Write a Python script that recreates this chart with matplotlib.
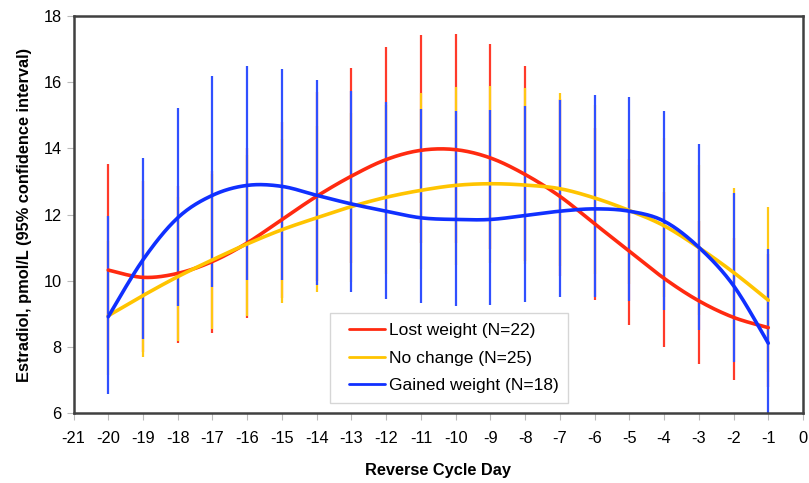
import numpy as np
import matplotlib
matplotlib.use("Agg")
import matplotlib.pyplot as plt
from matplotlib.legend_handler import HandlerLine2D
from matplotlib.lines import Line2D

days = [-20, -19, -18, -17, -16, -15, -14, -13, -12, -11, -10, -9, -8, -7, -6, -5, -4, -3, -2, -1]

lost_mean = [10.32, 10.10, 10.22, 10.58, 11.14, 11.85, 12.55, 13.16, 13.66, 13.94, 13.96, 13.71, 13.21, 12.55, 11.72, 10.89, 10.07, 9.39, 8.89, 8.58]
lost_lo   = [7.90, 7.85, 8.13, 8.42, 8.87, 9.48, 10.00, 10.54, 10.94, 11.15, 11.15, 10.97, 10.59, 10.15, 9.41, 8.67, 8.00, 7.48, 7.00, 6.80]
lost_hi   = [13.52, 13.00, 12.85, 13.30, 14.00, 14.80, 15.70, 16.43, 17.05, 17.42, 17.47, 17.14, 16.48, 15.50, 14.60, 13.68, 12.68, 11.79, 11.29, 10.80]

same_mean = [8.94, 9.55, 10.12, 10.63, 11.11, 11.54, 11.90, 12.24, 12.52, 12.73, 12.88, 12.93, 12.89, 12.78, 12.50, 12.12, 11.66, 11.00, 10.25, 9.41]
same_lo   = [7.15, 7.68, 8.18, 8.54, 8.94, 9.32, 9.65, 9.95, 10.20, 10.35, 10.47, 10.52, 10.50, 10.43, 10.20, 9.90, 9.50, 8.95, 8.20, 7.25]
same_hi   = [11.20, 11.87, 12.52, 13.23, 13.80, 14.29, 14.67, 15.06, 15.30, 15.66, 15.84, 15.89, 15.81, 15.66, 15.30, 14.85, 14.30, 13.50, 12.81, 12.22]

gain_mean = [8.91, 10.63, 11.90, 12.58, 12.88, 12.85, 12.58, 12.32, 12.10, 11.90, 11.85, 11.85, 11.97, 12.10, 12.17, 12.10, 11.80, 11.01, 9.85, 8.11]
gain_lo   = [6.57, 8.25, 9.24, 9.82, 10.02, 10.02, 9.88, 9.65, 9.45, 9.31, 9.24, 9.27, 9.36, 9.50, 9.50, 9.39, 9.11, 8.52, 7.55, 5.90]
gain_hi   = [11.94, 13.72, 15.23, 16.18, 16.50, 16.39, 16.06, 15.74, 15.40, 15.20, 15.12, 15.15, 15.27, 15.45, 15.60, 15.56, 15.12, 14.12, 12.65, 10.96]

labels = ["Lost weight (N=22)", "No change (N=25)", "Gained weight (N=18)"]
colors = ["#FF2A10", "#FFC400", "#1030FF"]
bar_colors = ["#FF3A2A", "#FFC814", "#3050FF"]


def smooth(x, y, n=24):
    x = np.asarray(x, float)
    y = np.asarray(y, float)
    px = np.concatenate([[x[0]], x, [x[-1]]])
    py = np.concatenate([[y[0]], y, [y[-1]]])
    xs, ys = [], []
    t = np.linspace(0, 1, n)
    for i in range(1, len(px) - 2):
        p0 = np.array([px[i], py[i]])
        p3 = np.array([px[i + 1], py[i + 1]])
        c1 = p0 + (np.array([px[i + 1], py[i + 1]]) - np.array([px[i - 1], py[i - 1]])) / 6.0
        c2 = p3 - (np.array([px[i + 2], py[i + 2]]) - np.array([px[i], py[i]])) / 6.0
        b = ((1 - t) ** 3)[:, None] * p0 + (3 * (1 - t) ** 2 * t)[:, None] * c1 + \
            (3 * (1 - t) * t ** 2)[:, None] * c2 + (t ** 3)[:, None] * p3
        xs.extend(b[:, 0])
        ys.extend(b[:, 1])
    return np.array(xs), np.array(ys)


class ShortLine(HandlerLine2D):
    def create_artists(self, legend, orig_handle, xdescent, ydescent, width, height,
                       fontsize, trans):
        arts = super().create_artists(legend, orig_handle, xdescent, ydescent, width,
                                      height, fontsize, trans)
        for a in arts:
            if isinstance(a, Line2D):
                xd = np.asarray(a.get_xdata(), float)
                if len(xd) >= 2:
                    x0, x1 = xd[0], xd[-1]
                    a.set_xdata([x0 + 0.22 * (x1 - x0), x1])
                    a.set_ydata([a.get_ydata()[0]] * 2)
        return arts


plt.rcParams['font.family'] = ['Liberation Sans', 'DejaVu Sans']
plt.rcParams['axes.unicode_minus'] = False
fig = plt.figure(figsize=(8.09, 4.83), dpi=100)
ax = fig.add_axes([73.5 / 809, (483 - 413) / 483, (803 - 73.5) / 809, (413 - 16) / 483])

series = [(lost_mean, lost_lo, lost_hi), (same_mean, same_lo, same_hi), (gain_mean, gain_lo, gain_hi)]

# error bars: red first, then yellow, then blue on top
for k, (m, lo, hi) in enumerate(series):
    ax.vlines(days, lo, hi, color=bar_colors[k], lw=1.6, zorder=2 + k * 0.1)

handles = []
for k, (m, lo, hi) in enumerate(series):
    sx, sy = smooth(days, m)
    h, = ax.plot(sx, sy, color=colors[k], lw=2.6, zorder=4 + k * 0.1,
                 solid_capstyle='round', label=labels[k])
    handles.append(h)

ax.set_xlim(-21, 0)
ax.set_ylim(6, 18)
ax.set_xticks(range(-21, 1))
ax.set_yticks(range(6, 19, 2))
ax.tick_params(axis='both', labelsize=11.8, color='#BBBBBB', length=5, width=0.8,
               labelcolor='black')
ax.tick_params(axis='x', pad=8)
for s in ax.spines.values():
    s.set_color('#404040')
    s.set_linewidth(1.8)

ax.set_xlabel("Reverse Cycle Day", fontsize=11.8, fontweight='bold', labelpad=12)
ax.set_ylabel("Estradiol, pmol/L (95% confidence interval)", fontsize=11.8,
              fontweight='bold', labelpad=8)

leg = ax.legend(handles=handles, loc='lower left',
                bbox_to_anchor=((330 - 73.5) / 729.5, (413 - 403) / 397),
                fontsize=12.5, frameon=True, fancybox=False, edgecolor='#CCCCCC',
                handlelength=2.6, handletextpad=0.22, borderpad=0.55, labelspacing=0.72,
                borderaxespad=0, handler_map={Line2D: ShortLine()})
leg.get_frame().set_linewidth(1.0)
for lh in leg.get_lines():
    lh.set_linewidth(2.0)

fig.savefig("out.png", dpi=100)
